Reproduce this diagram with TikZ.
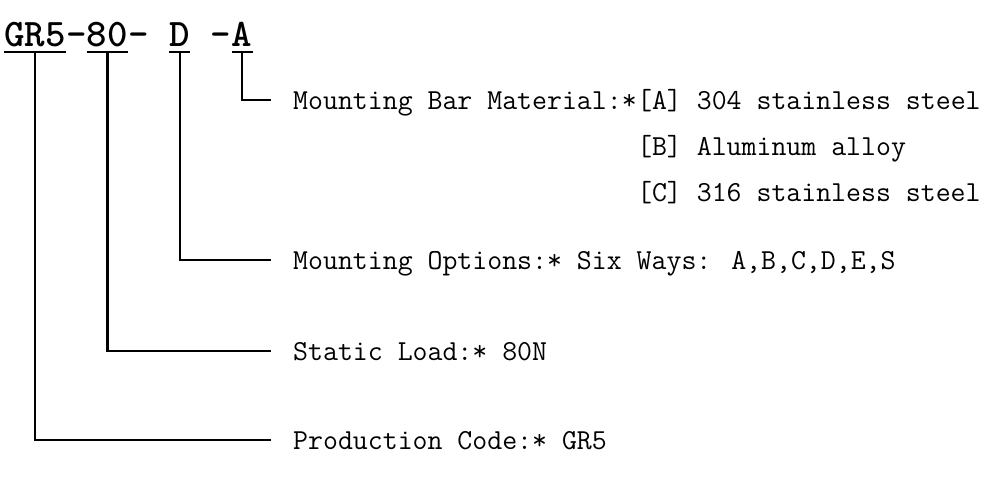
\documentclass[tikz,border=0pt]{standalone}
\usepackage{fontspec}
\newfontfamily\codefam{lmmonolt10-bold.otf}
\newcommand\codefont{\codefam\fontsize{39}{39}\selectfont}
\newcommand\tagfont{\ttfamily\fontsize{29}{35}\selectfont}
\usetikzlibrary{positioning}

\begin{document}
\begin{tikzpicture}[x=1pt,y=-1pt,
        codechar/.style={anchor=south west, inner sep=0pt, text height=25pt, text depth=0pt, font=\codefont},
        tagtext/.style={anchor=west, inner sep=0pt, text height=18pt, text depth=0pt, font=\tagfont},
        lead/.style={line width=2.5pt}]
        \useasboundingbox (0,0) rectangle (1000,480);
        % ordering code
        \node[codechar] at (4,47) (GR) {GR5};
        \node[codechar] at (GR.south east) (dashA) {–};
        \node[codechar] at (dashA.south east) (LOAD) {80};
        \node[codechar] at (LOAD.south east) (dashB) {–\hphantom{–}};
        \node[codechar] at (dashB.south east) (OPT) {D};
        \node[codechar] at (OPT.south east) (dashC) {\hphantom{–}–};
        \node[codechar] at (dashC.south east) (MAT) {A};
        % explanations
        \node[tagtext] at (293,100) (matname) {Mounting Bar Material:*};
        \node[tagtext] at (matname.east) (matA) {[A] 304 stainless steel};
        \node[tagtext] at ([yshift=-46pt]matA.west) (matB) {[B] Aluminum alloy};
        \node[tagtext] at ([yshift=-46pt]matB.west) (matC) {[C] 316 stainless steel};
        \node[tagtext] at (293,260) (opts) {Mounting Options:* Six Ways: A,B,C,D,E,S};
        \node[tagtext] at (293,351) (static) {Static Load:* 80N};
        \node[tagtext] at (293,440) (prod) {Production Code:* GR5};
        % underlines
        \foreach \part in {GR, LOAD, OPT, MAT}
            \draw[lead] ([yshift=-5pt]\part.south west) -- ([yshift=-5pt]\part.south east);
        % leader lines
        \draw[lead] ([yshift=-5pt]MAT.south) |- ([xshift=-22pt]matname.west);
        \draw[lead] ([yshift=-5pt]OPT.south) |- ([xshift=-22pt]opts.west);
        \draw[lead] ([yshift=-5pt]LOAD.south) |- ([xshift=-22pt]static.west);
        \draw[lead] ([yshift=-5pt]GR.south) |- ([xshift=-22pt]prod.west);
\end{tikzpicture}
\end{document}
